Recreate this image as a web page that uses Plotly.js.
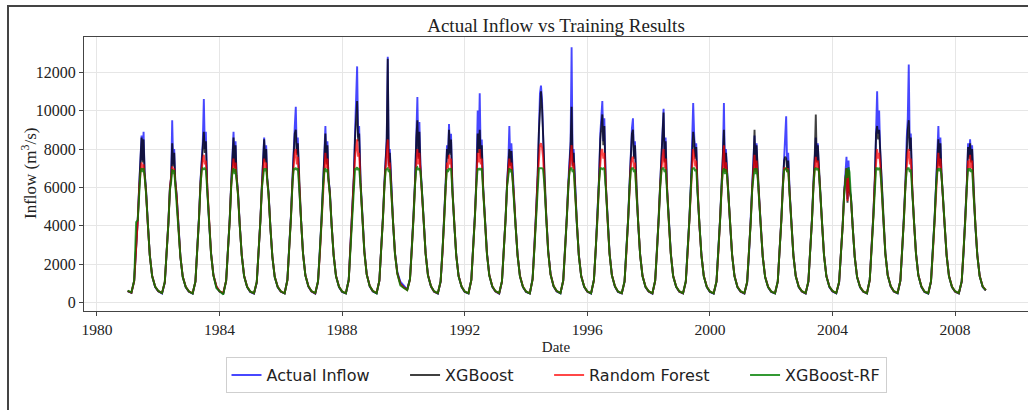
<!DOCTYPE html>
<html><head><meta charset="utf-8">
<script src="https://cdn.plot.ly/plotly-3.0.1.min.js"></script>
<style>
html,body{margin:0;padding:0;background:#fff;overflow:hidden}
#wrap{position:relative;width:1028px;height:410px}
#chart{position:absolute;left:0;top:0;width:1028px;height:410px}
#frame{position:absolute;left:7px;top:5px;width:1030px;height:420px;border-left:2px solid #444;border-top:2px solid #444;pointer-events:none}
</style></head>
<body><div id="wrap"><div id="chart"></div><div id="frame"></div></div>
<script>
const years = [1981,1982,1983,1984,1985,1986,1987,1988,1989,1990,1991,1992,1993,1994,1995,1996,1997,1998,1999,2000,2001,2002,2003,2004,2005,2006,2007,2008];
const seasonDates = ['01-01','02-15','03-20','04-12','05-02','05-20','06-04','06-16','06-28','07-10','07-22','08-08','08-30','09-22','10-20','11-25'];
const endDate = '2009-01-01';

const actualInflow = [
[600,510,1150,2700,4400,6200,8200,8700,7400,8900,6800,5900,4100,2500,1400,820],
[590,480,1050,2500,4200,6000,6500,9500,7200,8000,6400,5600,3900,2400,1350,800],
[570,470,1100,2800,4500,6400,7800,8400,10600,8000,8900,6000,4200,2600,1450,830],
[580,480,1150,2700,4400,6300,7700,8900,7100,8400,6600,5800,4000,2500,1400,810],
[560,470,1050,2600,4300,6100,7200,8600,7400,8200,6500,5700,3900,2400,1350,800],
[570,480,1200,2900,4600,6500,8500,9200,10200,7800,8600,6100,4300,2600,1450,840],
[580,470,1100,2700,4400,6200,7800,9200,7300,8400,6500,5800,4000,2500,1400,810],
[560,480,1200,3000,4700,6600,9000,10400,12300,8600,9200,6300,4400,2700,1500,850],
[590,490,1150,2800,4500,6300,7900,8600,12800,7200,8000,6000,4200,2600,1600,1100],
[900,700,1250,2900,4600,6400,9000,10700,7600,9400,7200,6100,4300,2600,1450,840],
[570,470,1100,2700,4400,6300,8200,7600,9300,7800,8800,5900,4100,2500,1400,820],
[560,480,1200,2900,4600,6500,10000,8000,10900,7600,8500,6000,4200,2600,1450,830],
[580,470,1100,2700,4400,6200,7400,9200,7200,8300,6800,5800,4000,2500,1400,810],
[560,480,1250,3000,4800,6700,9200,10900,11300,10600,9000,6400,4500,2700,1500,850],
[590,490,1150,2800,4500,6300,7600,8400,13300,7200,8000,5900,4100,2500,1400,820],
[570,470,1200,2900,4600,6500,8800,9900,10500,8400,9600,6200,4300,2600,1450,840],
[560,480,1100,2700,4400,6300,8000,9100,9600,7600,8400,5900,4100,2500,1400,810],
[580,470,1150,2800,4500,6300,7800,8800,10100,7400,8600,6000,4200,2600,1400,820],
[570,480,1100,2700,4400,6200,8000,10400,8700,7600,8300,5800,4000,2500,1400,810],
[560,470,1100,2700,4400,6200,7600,10400,7000,8000,6900,5800,4000,2500,1400,800],
[570,470,1050,2600,4300,6100,7400,8700,6900,8300,6800,5700,3900,2400,1350,800],
[560,480,1100,2700,4400,6200,7600,8200,9700,7000,7800,5800,4000,2500,1400,810],
[580,480,1100,2700,4400,6300,7800,8600,7400,8300,7000,5900,4100,2500,1400,820],
[590,490,1050,2500,4100,5800,6600,7600,5400,7400,6000,5500,3900,2400,1350,800],
[570,480,1200,2900,4600,6500,9200,11000,8800,10000,8000,6200,4300,2600,1450,840],
[580,490,1150,2800,4500,6300,8600,9600,12400,8000,8800,6000,4200,2600,1450,830],
[560,470,1100,2700,4400,6200,7600,9200,7200,8600,6800,5800,4000,2500,1400,810],
[570,480,1100,2700,4400,6200,8300,7600,8500,7400,8200,5800,4000,2500,1400,820]
];
const actualEnd = 640;

const xgboost = [
[610,520,1120,2650,4350,6150,8000,8600,7300,8500,6800,5850,4080,2480,1390,830],
[600,500,1060,2520,4180,5950,6600,8300,7100,7800,6400,5580,3880,2380,1340,810],
[580,490,1090,2760,4460,6350,7600,8200,8900,7800,8400,5950,4180,2580,1440,840],
[590,495,1130,2680,4370,6250,7500,8600,7000,8200,6600,5750,3980,2480,1390,820],
[570,485,1060,2610,4280,6080,7100,8500,7300,8000,6500,5680,3880,2390,1340,810],
[580,490,1180,2860,4560,6450,8200,8800,9000,7700,8300,6050,4280,2580,1440,850],
[590,485,1100,2680,4380,6180,7600,8800,7200,8200,6500,5750,3980,2480,1390,820],
[570,490,1180,2950,4650,6550,8600,9400,10500,8400,8800,6250,4380,2680,1490,860],
[600,500,1140,2780,4470,6270,7700,8400,12700,7100,7800,5950,4180,2580,1550,1000],
[820,680,1230,2870,4570,6370,8600,9500,7500,8900,7100,6050,4280,2580,1440,850],
[580,485,1100,2690,4380,6270,8000,7500,9000,7700,8500,5870,4080,2480,1390,830],
[570,490,1180,2870,4570,6450,8800,7800,9000,7500,8200,5950,4180,2580,1440,840],
[590,485,1100,2690,4380,6180,7200,8000,7100,7900,6800,5770,3980,2480,1390,820],
[570,490,1230,2960,4760,6650,9000,10500,11000,10200,8800,6350,4470,2680,1490,860],
[600,500,1140,2780,4470,6270,7500,8200,10200,7100,7800,5870,4080,2480,1390,830],
[580,485,1180,2870,4570,6450,8500,9500,9800,8200,9200,6150,4280,2580,1440,850],
[570,490,1100,2690,4380,6270,7800,8800,9000,7500,8200,5870,4080,2480,1390,820],
[590,485,1140,2780,4470,6270,7600,8600,9900,7300,8400,5950,4180,2580,1390,830],
[580,490,1100,2690,4380,6180,7800,8900,8400,7500,8100,5770,3980,2480,1390,820],
[570,485,1100,2690,4380,6180,7400,9000,6900,7800,6900,5770,3980,2480,1390,810],
[580,485,1060,2610,4280,6080,7300,9000,6900,8200,6800,5680,3880,2390,1340,810],
[570,490,1100,2690,4380,6180,7400,7600,7500,6900,7400,5770,3980,2480,1390,820],
[590,490,1100,2690,4380,6270,7700,9800,7300,8200,7000,5870,4080,2480,1390,830],
[600,500,1060,2520,4080,5780,6500,7000,5200,6900,5800,5480,3880,2390,1340,810],
[580,490,1180,2870,4570,6450,8800,9200,8500,9000,7900,6150,4280,2580,1440,850],
[590,500,1140,2780,4470,6270,8400,9000,9500,7900,8600,5950,4180,2580,1440,840],
[570,485,1100,2690,4380,6180,7500,8500,7100,8300,6800,5770,3980,2480,1390,820],
[580,490,1100,2690,4380,6180,8100,7500,8300,7300,8000,5770,3980,2480,1390,830]
];
const xgboostEnd = 650;

const randomForest = [
[620,530,1130,2620,4300,6050,7000,7300,6900,7200,6600,5750,4050,2480,1400,850],
[610,510,1080,2500,4150,5900,6400,7100,6800,7000,6300,5500,3880,2400,1360,830],
[590,500,1100,2700,4400,6200,7100,7500,7700,7200,7400,5850,4150,2560,1440,860],
[600,505,1140,2650,4320,6150,7000,7500,6800,7300,6500,5650,3980,2480,1400,840],
[580,495,1080,2580,4250,5980,6900,7500,7000,7300,6400,5580,3880,2400,1360,830],
[590,500,1170,2800,4480,6300,7500,7800,8000,7200,7600,5950,4250,2560,1440,870],
[600,495,1110,2650,4330,6080,7200,7800,7000,7500,6400,5650,3980,2480,1400,840],
[580,500,1170,2900,4560,6400,7600,8000,8500,7600,7800,6100,4350,2650,1480,880],
[610,510,1140,2740,4420,6150,7200,7600,8500,7000,7300,5850,4150,2560,1520,980],
[800,670,1200,2820,4480,6220,7600,8000,7200,7800,6900,5950,4250,2560,1440,870],
[590,495,1110,2660,4330,6150,7300,7000,7700,7200,7500,5780,4050,2480,1400,850],
[580,500,1170,2820,4480,6300,7800,7300,8000,7200,7500,5850,4150,2560,1440,860],
[600,495,1110,2660,4330,6080,7000,7500,6900,7300,6600,5680,3980,2480,1400,840],
[580,500,1200,2900,4640,6450,7800,8200,8300,8100,7600,6200,4420,2650,1480,880],
[610,510,1140,2740,4420,6150,7100,7500,8200,7000,7300,5780,4050,2480,1400,850],
[590,495,1170,2820,4480,6300,7600,7900,8000,7500,7800,6050,4250,2560,1440,870],
[580,500,1110,2660,4330,6150,7200,7500,7600,7000,7300,5780,4050,2480,1400,840],
[600,495,1140,2740,4420,6150,7200,7600,8000,7000,7500,5850,4150,2560,1400,850],
[590,500,1110,2660,4330,6080,7300,8000,7600,7100,7400,5680,3980,2480,1400,840],
[580,495,1110,2660,4330,6080,7100,8200,6800,7300,6800,5680,3980,2480,1400,830],
[590,495,1080,2580,4250,5980,7000,7700,6800,7400,6700,5580,3880,2400,1360,830],
[580,500,1110,2660,4330,6080,7000,7000,7000,6800,7000,5680,3980,2480,1400,840],
[600,500,1110,2660,4330,6150,7200,7600,7000,7400,6900,5780,4050,2480,1400,850],
[610,510,1080,2500,4050,5700,6400,7000,5300,6900,5900,5400,3880,2400,1360,830],
[590,500,1170,2820,4480,6300,7600,8000,7500,7800,7200,6050,4250,2560,1440,870],
[600,510,1140,2740,4420,6150,7400,7800,8000,7200,7500,5850,4150,2560,1440,860],
[580,495,1110,2660,4330,6080,7100,7800,7000,7500,6700,5680,3980,2480,1400,840],
[590,500,1110,2660,4330,6080,7400,7000,7700,7000,7400,5680,3980,2480,1400,850]
];
const randomForestEnd = 660;

const xgboostRF = [
[630,540,1160,4200,4300,6000,6900,7000,6800,7000,6600,5700,4000,2450,1380,840],
[620,500,1100,2520,4120,5850,6300,6950,6700,6900,6200,5450,3850,2380,1340,820],
[600,480,1120,2720,4380,6150,6900,7000,6950,7000,6900,5800,4100,2520,1420,760],
[610,420,1160,2660,4300,6100,6850,7000,6700,6950,6500,5600,3950,2450,1380,830],
[590,500,1100,2590,4230,5950,6800,7000,6850,7000,6400,5550,3850,2380,1340,820],
[600,490,1190,2820,4460,6250,7000,6950,7000,6900,7000,5900,4200,2540,1420,860],
[610,500,1130,2660,4300,6050,6900,7000,6800,6950,6400,5600,3950,2450,1380,830],
[590,490,1190,2900,4540,6350,7000,6950,7050,6900,7000,6050,4300,2620,1460,870],
[620,480,1160,2750,4400,6100,6900,6950,7000,6800,6950,5800,4100,2520,1500,900],
[780,650,1220,2830,4460,6180,7000,7050,6900,7000,6850,5900,4200,2540,1420,860],
[600,500,1130,2670,4310,6100,6950,6800,7000,6900,7000,5730,4000,2450,1380,840],
[590,490,1190,2830,4460,6250,7000,6900,7000,6900,7000,5800,4100,2520,1420,850],
[610,500,1130,2670,4310,6050,6800,7000,6800,6950,6550,5630,3950,2450,1380,830],
[590,490,1220,2900,4620,6400,7000,7000,7000,7000,6950,6150,4370,2620,1460,870],
[620,500,1160,2750,4400,6100,6850,7000,7000,6800,6950,5730,4000,2450,1380,840],
[600,490,1190,2830,4460,6250,7000,7000,6950,7000,6950,6000,4200,2540,1420,860],
[590,500,1130,2670,4310,6100,6900,7000,7000,6800,6950,5730,4000,2450,1380,830],
[610,490,1160,2750,4400,6100,6900,7000,7000,6800,6950,5800,4100,2520,1380,840],
[600,500,1130,2670,4310,6050,6950,7000,7000,6850,6950,5630,3950,2450,1380,830],
[590,490,1130,2670,4310,6050,6850,7000,6700,6950,6700,5630,3950,2450,1380,820],
[600,500,1100,2590,4230,5950,6800,7000,6700,7000,6600,5530,3850,2380,1340,820],
[590,490,1130,2670,4310,6050,6900,6950,7000,6800,6950,5630,3950,2450,1380,830],
[610,500,1130,2670,4310,6100,6950,7000,6900,7000,6850,5730,4000,2450,1380,840],
[620,500,1100,2520,4030,5650,6400,7000,6500,7050,6800,5350,3850,2380,1340,820],
[600,490,1190,2830,4460,6250,7000,7000,6900,7000,6950,6000,4200,2540,1420,860],
[610,500,1160,2750,4400,6100,6900,7000,7000,6800,6950,5800,4100,2520,1420,850],
[590,490,1130,2670,4310,6050,6900,7000,6850,7000,6650,5630,3950,2450,1380,830],
[600,500,1130,2670,4310,6050,7000,6850,7000,6800,6950,5630,3950,2450,1380,840]
];
const xgboostRFEnd = 650;

const seriesNames = ['Actual Inflow','XGBoost','Random Forest','XGBoost-RF'];
const seriesColors = ['rgba(0,0,255,0.72)','rgba(0,0,0,0.75)','rgba(255,0,0,0.72)','rgba(0,128,0,0.8)'];

function buildSeries(rows, endVal){
  const x = [], y = [];
  years.forEach((yr, i) => {
    seasonDates.forEach((md, j) => { x.push(yr + '-' + md); y.push(rows[i][j]); });
  });
  x.push(endDate); y.push(endVal);
  return {x, y};
}
const allRows = [[actualInflow, actualEnd],[xgboost, xgboostEnd],[randomForest, randomForestEnd],[xgboostRF, xgboostRFEnd]];
const pad = '\u00a0\u00a0\u00a0\u00a0\u00a0\u00a0';
const traces = allRows.map((r, k) => {
  const s = buildSeries(r[0], r[1]);
  return {type:'scatter', mode:'lines', x:s.x, y:s.y,
    name: seriesNames[k] + (k < 3 ? pad : ''),
    line:{color:seriesColors[k], width:1.9}, hoverinfo:'skip'};
});

const serif = 'Liberation Serif, Times New Roman, serif';
const layout = {
  width:1028, height:410,
  margin:{l:84, r:0, t:37, b:99},
  paper_bgcolor:'#ffffff', plot_bgcolor:'#ffffff',
  showlegend:true,
  title:{text:'Actual Inflow vs Training Results', font:{family:serif, size:19, color:'#222'},
    x:0.5, xref:'paper', xanchor:'center', y:1-25/410, yref:'container', yanchor:'middle'},
  xaxis:{type:'date', range:['1979-07-31','2010-05-19'], tick0:'1980-01-01', dtick:'M48', tickformat:'%Y',
    ticks:'outside', ticklen:4, tickcolor:'#444', showgrid:true, gridcolor:'#e6e6e6', gridwidth:1,
    showline:true, linecolor:'#444', linewidth:1, mirror:true, zeroline:false,
    tickfont:{family:serif, size:15.5, color:'#222'},
    title:{text:'Date', font:{family:serif, size:15, color:'#222'}, standoff:4}},
  yaxis:{range:[-430,13830], tick0:0, dtick:2000, tickformat:'d',
    ticks:'outside', ticklen:4, tickcolor:'#444', showgrid:true, gridcolor:'#e6e6e6', gridwidth:1,
    showline:true, linecolor:'#444', linewidth:1, mirror:true, zeroline:false,
    tickfont:{family:serif, size:16, color:'#222'}},
  annotations:[{text:'Inflow (m<sup>3</sup>/s)', textangle:-90, xref:'paper', yref:'paper',
    x:(29-84)/944, y:0.5, xanchor:'center', yanchor:'middle', showarrow:false,
    font:{family:serif, size:17, color:'#222'}}],
  legend:{orientation:'h', x:0.5, xanchor:'center', y:-0.168, yanchor:'top',
    font:{family:'DejaVu Sans, sans-serif', size:16, color:'#222'},
    bordercolor:'#cfcfcf', borderwidth:1, bgcolor:'#ffffff', itemwidth:30},
  hovermode:false
};
Plotly.newPlot('chart', traces, layout, {displayModeBar:false, staticPlot:true});
</script>
</body></html>
